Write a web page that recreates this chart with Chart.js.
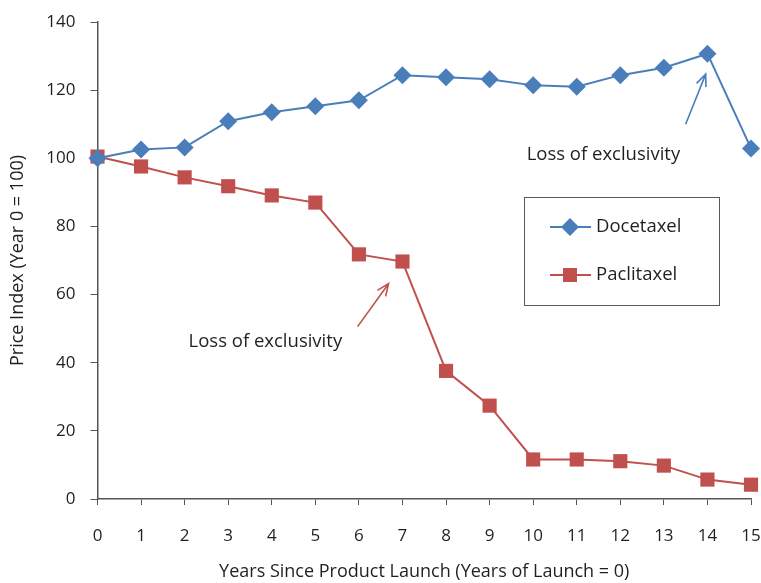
<!DOCTYPE html>
<html>
<head>
<meta charset="utf-8">
<script src="https://cdn.jsdelivr.net/npm/chart.js@4.4.1/dist/chart.umd.min.js"></script>
<style>
  html, body { margin: 0; padding: 0; background: #fff; }
  #wrap { width: 761px; height: 583px; }
</style>
</head>
<body>
<div id="wrap"><canvas id="chartPrecio" width="761" height="583"></canvas></div>
<script>
// data
const years = [0,1,2,3,4,5,6,7,8,9,10,11,12,13,14,15]
const docetaxel = [100,102.6,103.2,110.9,113.5,115.3,117,124.4,123.8,123.2,121.4,121,124.4,126.6,130.7,102.9]
const paclitaxel = [100.5,97.6,94.4,91.8,89.1,87,71.8,69.7,37.6,27.4,11.6,11.6,11.1,9.8,5.7,4.2]
const yTicks = [0,20,40,60,80,100,120,140]

const blue = '#4a7ebb'
const red = '#c0504d'
const txt = '#231f20'
const font = "'Open Sans', 'Liberation Sans', Arial, sans-serif"

// annotation text + arrows, in data units
const notes = [
  {text: 'Loss of exclusivity', x: 9.85, y: 100.9, from: [13.5, 110], to: [13.96, 124.7], color: blue},
  {text: 'Loss of exclusivity', x: 2.09, y: 46.2, from: [5.97, 50.6], to: [6.68, 63.2], color: red}
]

const extras = {
  id: 'extras',
  afterDraw(chart) {
    const ctx = chart.ctx
    const xs = chart.scales.x, ys = chart.scales.y
    ctx.save()
    ctx.font = '18.5px ' + font
    ctx.textBaseline = 'middle'
    ctx.textAlign = 'left'
    notes.forEach(n => {
      ctx.fillStyle = txt
      ctx.fillText(n.text, xs.getPixelForValue(n.x), ys.getPixelForValue(n.y))
      const x1 = xs.getPixelForValue(n.from[0]), y1 = ys.getPixelForValue(n.from[1])
      const x2 = xs.getPixelForValue(n.to[0]), y2 = ys.getPixelForValue(n.to[1])
      const a = Math.atan2(y2 - y1, x2 - x1)
      ctx.strokeStyle = n.color
      ctx.lineWidth = 1.6
      ctx.beginPath()
      ctx.moveTo(x1, y1); ctx.lineTo(x2, y2)
      ctx.moveTo(x2 - 13 * Math.cos(a - 0.4), y2 - 13 * Math.sin(a - 0.4))
      ctx.lineTo(x2, y2)
      ctx.lineTo(x2 - 13 * Math.cos(a + 0.4), y2 - 13 * Math.sin(a + 0.4))
      ctx.stroke()
    })

    // legend box
    const bx = 524.5, by = 197.5, bw = 195, bh = 108
    ctx.strokeStyle = '#5a5a5a'
    ctx.lineWidth = 1
    ctx.strokeRect(bx, by, bw, bh)
    chart.data.datasets.forEach((ds, i) => {
      const cy = 227 + i * 48
      ctx.strokeStyle = ds.borderColor
      ctx.lineWidth = 2
      ctx.beginPath(); ctx.moveTo(550, cy); ctx.lineTo(591, cy); ctx.stroke()
      ctx.fillStyle = ds.backgroundColor
      if (ds.pointStyle === 'rectRot') {
        ctx.beginPath()
        ctx.moveTo(570, cy - 9); ctx.lineTo(579, cy); ctx.lineTo(570, cy + 9); ctx.lineTo(561, cy)
        ctx.closePath(); ctx.fill()
      } else {
        ctx.fillRect(563, cy - 7, 14, 14)
      }
      ctx.fillStyle = txt
      ctx.font = '18.5px ' + font
      ctx.fillText(ds.label, 596, cy)
    })
    ctx.restore()
  }
}

const graphic = document.getElementById('chartPrecio')
let graphicLine = new Chart(graphic, {
  type: 'line',
  data: {
    datasets: [{
      label: 'Docetaxel',
      data: years.map((x, i) => ({x: x, y: docetaxel[i]})),
      borderColor: blue,
      backgroundColor: blue,
      borderWidth: 2,
      pointStyle: 'rectRot',
      pointRadius: 9,
      pointBorderWidth: 0,
      clip: false
    }, {
      label: 'Paclitaxel',
      data: years.map((x, i) => ({x: x, y: paclitaxel[i]})),
      borderColor: red,
      backgroundColor: red,
      borderWidth: 2,
      pointStyle: 'rect',
      pointRadius: 10,
      pointBorderWidth: 0,
      clip: false
    }]
  },
  options: {
    responsive: false,
    animation: false,
    layout: { padding: { top: 22, right: 6, left: 0, bottom: 0 } },
    plugins: { legend: { display: false }, tooltip: { enabled: false } },
    scales: {
      x: {
        type: 'linear',
        min: 0, max: 15,
        afterFit: (s) => { s.height = 84; s.paddingRight = 0; s.paddingLeft = 0 },
        afterBuildTicks: (s) => { s.ticks = years.map(v => ({value: v})) },
        grid: { drawOnChartArea: false, tickLength: 6, color: '#555' },
        border: { color: '#555', width: 1.5 },
        ticks: { color: txt, font: { family: font, size: 17 }, padding: 21, maxRotation: 0, autoSkip: false },
        title: { display: true, text: 'Years Since Product Launch (Years of Launch = 0)', color: txt, font: { family: font, size: 18 }, padding: { top: 0, bottom: 0 } }
      },
      y: {
        min: 0, max: 140,
        afterFit: (s) => { s.width = 97.5; s.paddingTop = 0; s.paddingBottom = 0 },
        afterBuildTicks: (s) => { s.ticks = yTicks.map(v => ({value: v})) },
        grid: { drawOnChartArea: false, tickLength: 7, color: '#555' },
        border: { color: '#555', width: 1.5 },
        ticks: { color: txt, font: { family: font, size: 17 }, padding: 15 },
        title: { display: true, text: 'Price Index (Year 0 = 100)', color: txt, font: { family: font, size: 18 }, padding: { top: 7, bottom: 0 } }
      }
    }
  },
  plugins: [extras]
})
</script>
</body>
</html>
